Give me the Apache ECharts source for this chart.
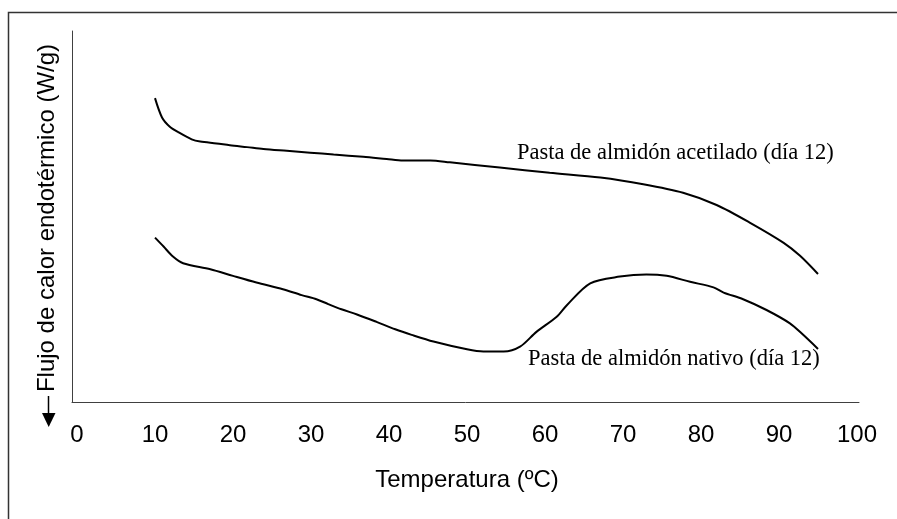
<!DOCTYPE html>
<html>
<head>
<meta charset="utf-8">
<script src="https://cdn.jsdelivr.net/npm/echarts@6/dist/echarts.min.js"></script>
<style>
html,body{margin:0;padding:0;background:#fff;}
#chart{width:897px;height:519px;}
</style>
</head>
<body>
<div id="chart"></div>
<script>
// X axis tick labels (temperature, ºC)
const xTicks = [0, 10, 20, 30, 40, 50, 60, 70, 80, 90, 100];

// Pasta de almidón acetilado (día 12) — temperature and relative heat flow
const tempAcet = [10, 10.9, 11.9, 13.0, 14.7, 15.8, 17.9, 19.6, 21.8, 23.9, 26.9, 29.9, 32.9, 36.7, 39.7, 41.8, 45.3, 47.8, 54.2, 60.6, 67.1, 72.6, 77.7, 82.0, 86.3, 90.6, 92.7, 95.0];
const flujoAcet = [81.9, 76.7, 74.2, 72.7, 70.8, 70.2, 69.7, 69.2, 68.7, 68.2, 67.7, 67.2, 66.7, 66.1, 65.5, 65.1, 65.1, 64.6, 63.2, 61.8, 60.5, 58.7, 56.4, 53.1, 48.3, 42.9, 39.4, 34.5];

// Pasta de almidón nativo (día 12)
const tempNat = [10.0, 11.1, 12.3, 13.6, 17.1, 20.0, 23.0, 26.4, 28.8, 30.7, 32.2, 33.9, 35.9, 38.4, 40.8, 42.9, 45.7, 50.0, 52.1, 54.7, 56.8, 58.9, 61.5, 62.8, 65.8, 69.6, 73.0, 75.6, 78.6, 81.6, 82.9, 85.4, 88.4, 91.4, 93.1, 95.0];
const flujoNat = [44.3, 41.9, 39.2, 37.4, 35.8, 34.0, 32.2, 30.4, 28.8, 27.7, 26.4, 25.0, 23.6, 21.6, 19.6, 18.1, 16.3, 14.2, 13.6, 13.6, 14.9, 18.9, 23.0, 26.1, 32.0, 33.8, 34.4, 34.0, 32.4, 30.9, 29.5, 27.7, 24.8, 21.2, 18.1, 14.3];

const labelAcet = 'Pasta de almidón acetilado (día 12)';
const labelNat = 'Pasta de almidón nativo (día 12)';
const xName = 'Temperatura (ºC)';
const yName = 'Flujo de calor endotérmico (W/g)';

const pair = (xs, ys) => xs.map((x, i) => [x, ys[i]]);

const chart = echarts.init(document.getElementById('chart'), null, {renderer: 'canvas'});
const sans = 'Liberation Sans, Arial, sans-serif';
const serif = 'Liberation Serif, Times New Roman, serif';
const axisColor = '#404040';

chart.setOption({
  animation: false,
  backgroundColor: '#ffffff',
  grid: [
    {left: 77, right: 40, top: 31, bottom: 117},
    {left: 72, right: 38, top: 31, bottom: 117}
  ],
  xAxis: [
    {
      type: 'value', gridIndex: 0, min: xTicks[0], max: xTicks[xTicks.length - 1], interval: 10,
      axisLine: {show: false}, axisTick: {show: false}, splitLine: {show: false},
      axisLabel: {color: '#000', fontFamily: sans, fontSize: 24, margin: 21},
      name: xName, nameLocation: 'middle', nameGap: 66,
      nameTextStyle: {color: '#000', fontFamily: sans, fontSize: 24}
    },
    {
      type: 'value', gridIndex: 1, min: 0, max: 1,
      axisLine: {show: true, lineStyle: {color: axisColor, width: 1}},
      axisTick: {show: false}, axisLabel: {show: false}, splitLine: {show: false}
    }
  ],
  yAxis: [
    {
      type: 'value', gridIndex: 0, min: 0, max: 100,
      axisLine: {show: false}, axisTick: {show: false}, axisLabel: {show: false}, splitLine: {show: false}
    },
    {
      type: 'value', gridIndex: 1, min: 0, max: 1,
      axisLine: {show: true, lineStyle: {color: axisColor, width: 1}},
      axisTick: {show: false}, axisLabel: {show: false}, splitLine: {show: false}
    }
  ],
  series: [
    {
      name: labelAcet, type: 'line', xAxisIndex: 0, yAxisIndex: 0,
      data: pair(tempAcet, flujoAcet), showSymbol: false, smooth: 0.3,
      lineStyle: {color: '#000', width: 2}
    },
    {
      name: labelNat, type: 'line', xAxisIndex: 0, yAxisIndex: 0,
      data: pair(tempNat, flujoNat), showSymbol: false, smooth: 0.3,
      lineStyle: {color: '#000', width: 2}
    }
  ],
  graphic: [
    {
      type: 'rect', silent: true, z: 0,
      shape: {x: 8.5, y: 12.5, width: 1000, height: 1000},
      style: {fill: null, stroke: '#333', lineWidth: 1.5}
    },
    {
      type: 'text', x: 47, y: 218, rotation: Math.PI / 2,
      style: {text: yName, fill: '#000', font: '24px ' + sans, align: 'center', verticalAlign: 'middle'}
    },
    {
      type: 'line', silent: true,
      shape: {x1: 48.5, y1: 396, x2: 48.5, y2: 415},
      style: {stroke: '#000', lineWidth: 1.5}
    },
    {
      type: 'polygon', silent: true,
      shape: {points: [[42, 413], [55.5, 413], [48.7, 427]]},
      style: {fill: '#000'}
    },
    {
      type: 'text', x: 517, y: 153,
      style: {text: labelAcet, fill: '#000', font: '22.5px ' + serif, align: 'left', verticalAlign: 'middle'}
    },
    {
      type: 'text', x: 528, y: 359,
      style: {text: labelNat, fill: '#000', font: '22.5px ' + serif, align: 'left', verticalAlign: 'middle'}
    }
  ]
});
</script>
</body>
</html>
